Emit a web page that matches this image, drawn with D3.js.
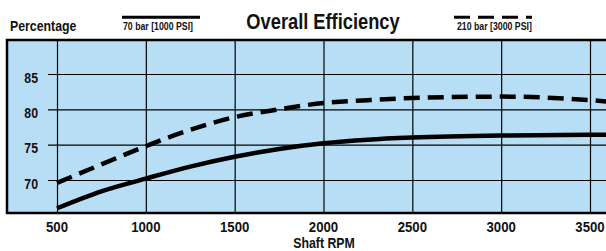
<!DOCTYPE html>
<html>
<head>
<meta charset="utf-8">
<script src="https://cdn.jsdelivr.net/npm/d3@7"></script>
<style>
  body { margin: 0; background: #fff; }
  text { font-family: "Liberation Sans", Arial, sans-serif; font-weight: bold; fill: #111; }
</style>
</head>
<body>
<script>
// données
const rpm = [500, 750, 1000, 1250, 1500, 1750, 2000, 2250, 2500, 3000, 3500, 3600];
const bar70 = [66.0, 68.4, 70.2, 71.9, 73.3, 74.4, 75.2, 75.7, 76.0, 76.3, 76.4, 76.4];
const bar210 = [69.6, 72.2, 74.8, 77.1, 78.9, 80.0, 80.9, 81.3, 81.6, 81.8, 81.3, 81.1];
const xTicks = [500, 1000, 1500, 2000, 2500, 3000, 3500];
const yTicks = [70, 75, 80, 85];
const series = [
  { name: '70 bar [1000 PSI]', values: bar70, dash: null },
  { name: '210 bar [3000 PSI]', values: bar210, dash: '16,8' }
];

const W = 606, H = 251;
const box = { left: 7, top: 40, right: 608, bottom: 213 };
const SX = 0.85; // police étroite simulée

const svg = d3.select('body').append('svg')
  .attr('width', W)
  .attr('height', H);

// texte condensé
function label(g, x0, y0, txt, size, anchor) {
  return g.append('text')
    .attr('transform', `translate(${x0},${y0}) scale(${SX},1)`)
    .attr('text-anchor', anchor || 'start')
    .attr('font-size', size)
    .text(txt);
}

// échelles
const x = d3.scaleLinear().domain([500, 3500]).range([57, 590]);
const y = d3.scaleLinear().domain([70, 85]).range([180, 74]);

// fond bleu
svg.append('rect')
  .attr('x', box.left).attr('y', box.top)
  .attr('width', box.right - box.left).attr('height', box.bottom - box.top)
  .attr('fill', '#b8def6');

// grille verticale
svg.append('g')
  .attr('transform', `translate(0,${box.bottom})`)
  .call(d3.axisBottom(x).tickValues(xTicks).tickSize(-(box.bottom - box.top)).tickFormat(''))
  .call(g => g.select('.domain').remove())
  .call(g => g.selectAll('line').attr('stroke', '#000').attr('stroke-width', 1.2));

// grille horizontale
svg.append('g')
  .attr('transform', `translate(${box.right},0)`)
  .call(d3.axisLeft(y).tickValues(yTicks).tickSize(box.right - 48).tickFormat(''))
  .call(g => g.select('.domain').remove())
  .call(g => g.selectAll('line').attr('stroke', '#000').attr('stroke-width', 1.2));

// étiquettes Y
yTicks.forEach(d => label(svg, 38, y(d) + 8.5, d, 14.5, 'end'));

// courbes
const line = d3.line().curve(d3.curveMonotoneX);
svg.append('clipPath').attr('id', 'clip')
  .append('rect')
  .attr('x', box.left).attr('y', box.top)
  .attr('width', W - box.left).attr('height', box.bottom - box.top);

svg.append('g').attr('clip-path', 'url(#clip)')
  .selectAll('path')
  .data(series).enter().append('path')
  .attr('d', s => line(rpm.map((r, i) => [x(r), y(s.values[i])])))
  .attr('fill', 'none')
  .attr('stroke', '#000')
  .attr('stroke-width', 4.5)
  .attr('stroke-dasharray', s => s.dash);

// cadre
svg.append('path')
  .attr('d', `M${W + 5},${box.top}H${box.left}V${box.bottom}H${W + 5}`)
  .attr('fill', 'none')
  .attr('stroke', '#000')
  .attr('stroke-width', 2.5);

// étiquettes X
xTicks.forEach(d => label(svg, x(d), 231.5, d, 15.5, 'middle'));
label(svg, 324, 248, 'Shaft RPM', 14.5, 'middle');

// titres
label(svg, 10, 31, 'Percentage', 14.5);
label(svg, 323, 29, 'Overall Efficiency', 21.5, 'middle');

// légende
const legX = [122, 454];
series.forEach((s, i) => {
  const g = svg.append('g').attr('transform', `translate(${legX[i]},0)`);
  g.append('line')
    .attr('x1', 0).attr('x2', 78)
    .attr('y1', 17.2).attr('y2', 17.2)
    .attr('stroke', '#000')
    .attr('stroke-width', 3)
    .attr('stroke-dasharray', s.dash);
  label(g, i === 0 ? 1 : 3, 30, s.name, 10.3);
});
</script>
</body>
</html>
